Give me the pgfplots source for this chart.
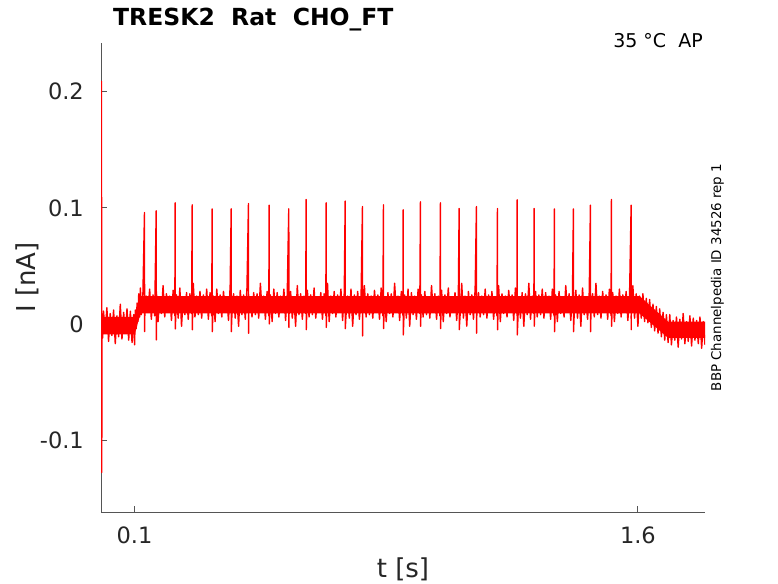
\documentclass[border=0pt]{standalone}
\usepackage{fontspec}
\setmainfont{DejaVu Sans}
\usepackage{pgfplots}
\pgfplotsset{compat=1.18}
\definecolor{axgray}{HTML}{555555}
\definecolor{lbl}{HTML}{262626}
\begin{document}
\begin{tikzpicture}
\path[use as bounding box] (0pt,0pt) rectangle (778pt,-583pt);
\begin{axis}[
  at={(101pt,-512pt)}, anchor=south west,
  scale only axis, width=604pt, height=469pt,
  xmin=0, xmax=1.8, ymin=-0.162, ymax=0.242,
  axis lines*=left,
  axis line style={draw=axgray, line width=0.8pt},
  tick style={draw=axgray, line width=0.8pt},
  major tick length=6pt,
  tick align=inside,
  xtick={0.1,1.6}, xticklabels={0.1,1.6},
  ytick={-0.1,0,0.1,0.2}, yticklabels={-0.1,0,0.1,0.2},
  tick label style={font=\fontsize{22.5}{27}\selectfont, text=lbl, inner sep=0pt},
  xticklabel style={anchor=north, yshift=-15pt},
  yticklabel style={anchor=east, xshift=-17pt},
  xlabel={t [s]}, ylabel={I [nA]},
  label style={font=\fontsize{26}{31}\selectfont, text=lbl, inner sep=0pt},
  xlabel style={at={(axis description cs:0.5,-0.1386)}, anchor=base},
  ylabel style={at={(axis description cs:-0.1081,0.5)}, anchor=base},
]
% solid core of the noisy band
\addplot[fill=red, draw=none] coordinates {
(0.002,0.006)(0.100,0.006)(0.118,0.024)(1.605,0.024)(1.690,0.002)(1.800,0.002)
(1.800,-0.012)(1.690,-0.012)(1.605,0.009)(0.118,0.009)(0.100,-0.009)(0.002,-0.009)
};
\addplot[color=red, line width=1.4pt, line join=round, mark=none] coordinates {
(0.0006,0.002)(0.0014,0.209)(0.0022,-0.128)(0.0030,0.004)
(0.0050,-0.012)(0.0075,0.011)(0.0125,-0.008)(0.0175,0.014)(0.0225,-0.015)(0.0275,0.009)(0.0325,-0.010)(0.0375,0.012)(0.0425,-0.017)(0.0475,0.007)(0.0525,-0.011)(0.0575,0.017)(0.0625,-0.013)(0.0675,0.010)(0.0725,-0.008)(0.0775,0.013)(0.0825,-0.014)(0.0875,0.011)(0.0925,-0.016)(0.0975,0.008)(0.1000,-0.018)
(0.1025,0.012)(0.105,-0.004)(0.1075,0.018)(0.110,0.002)(0.1125,0.026)(0.115,0.006)(0.1175,0.031)
(0.120,0.008)(0.125,0.027)(0.1296,0.0959)(0.1299,-0.0066)
(0.130,0.005)(0.135,0.024)
(0.140,0.010)(0.145,0.030)
(0.150,0.004)(0.155,0.025)
(0.160,0.007)(0.1645,0.0974)(0.1648,-0.0138)(0.165,0.028)
(0.170,0.002)(0.175,0.022)
(0.180,0.009)(0.185,0.033)
(0.190,0.006)(0.195,0.026)
(0.200,0.011)(0.205,0.024)
(0.210,0.003)(0.215,0.029)
(0.220,0.007)(0.2211,0.1043)(0.2214,-0.0043)(0.225,0.025)
(0.230,0.005)(0.235,0.031)
(0.240,-0.002)(0.245,0.023)
(0.250,0.008)(0.255,0.027)
(0.260,0.004)(0.265,0.026)
(0.270,0.009)(0.2718,0.1026)(0.2721,-0.0050)(0.275,0.035)
(0.280,0.006)(0.285,0.024)
(0.290,0.008)(0.295,0.028)
(0.300,0.005)(0.305,0.025)
(0.310,0.010)(0.315,0.030)
(0.320,0.004)(0.325,0.027)
(0.330,0.007)(0.3313,0.0991)(0.3316,-0.0066)(0.335,0.024)
(0.340,0.002)(0.345,0.030)
(0.350,0.009)(0.355,0.025)
(0.360,0.006)(0.365,0.028)
(0.370,0.011)(0.375,0.022)
(0.380,0.003)(0.385,0.033)(0.3880,0.0991)(0.3883,-0.0066)
(0.390,0.007)(0.395,0.026)
(0.400,0.005)(0.405,0.024)
(0.410,-0.002)(0.415,0.029)
(0.420,0.008)(0.425,0.025)
(0.430,0.004)(0.435,0.031)(0.4395,0.1037)(0.4398,-0.0080)
(0.440,0.009)(0.445,0.023)
(0.450,0.006)(0.455,0.027)
(0.460,0.008)(0.465,0.026)
(0.470,0.005)(0.475,0.035)
(0.480,0.010)(0.485,0.024)
(0.490,0.004)(0.495,0.028)
(0.500,0.007)(0.5012,0.1023)(0.5015,0.0000)(0.505,0.025)
(0.510,0.002)(0.515,0.030)
(0.520,0.009)(0.525,0.027)
(0.530,0.006)(0.535,0.024)
(0.540,0.011)(0.545,0.030)
(0.550,0.003)(0.555,0.025)(0.5596,0.0991)(0.5599,-0.0030)
(0.560,0.007)(0.565,0.028)
(0.570,0.005)(0.575,0.022)
(0.580,-0.002)(0.585,0.033)
(0.590,0.008)(0.595,0.026)
(0.600,0.004)(0.605,0.024)
(0.610,0.009)(0.6114,0.1072)(0.6117,-0.0050)(0.615,0.029)
(0.620,0.006)(0.625,0.025)
(0.630,0.008)(0.635,0.031)
(0.640,0.005)(0.645,0.023)
(0.650,0.010)(0.655,0.027)
(0.660,0.004)(0.665,0.026)
(0.670,0.007)(0.6710,0.1043)(0.6713,-0.0030)(0.675,0.035)
(0.680,0.002)(0.685,0.024)
(0.690,0.009)(0.695,0.028)
(0.700,0.006)(0.705,0.025)
(0.710,0.011)(0.715,0.030)
(0.720,0.003)(0.725,0.027)(0.7277,0.1058)(0.7280,-0.0040)
(0.730,0.007)(0.735,0.024)
(0.740,0.005)(0.745,0.030)
(0.750,-0.002)(0.755,0.025)
(0.760,0.008)(0.765,0.028)
(0.770,0.004)(0.775,0.022)(0.7792,0.1011)(0.7795,-0.0103)
(0.780,0.009)(0.785,0.033)
(0.790,0.006)(0.795,0.026)
(0.800,0.008)(0.805,0.024)
(0.810,0.005)(0.815,0.029)
(0.820,0.010)(0.825,0.025)
(0.830,0.004)(0.835,0.031)
(0.840,0.007)(0.8418,0.1026)(0.8421,-0.0040)(0.845,0.023)
(0.850,0.002)(0.855,0.027)
(0.860,0.009)(0.865,0.026)
(0.870,0.006)(0.875,0.035)
(0.880,0.011)(0.885,0.024)
(0.890,0.003)(0.895,0.028)
(0.900,0.007)(0.9005,0.0983)(0.9008,-0.0095)(0.905,0.025)
(0.910,0.005)(0.915,0.030)
(0.920,-0.002)(0.925,0.027)
(0.930,0.008)(0.935,0.024)
(0.940,0.004)(0.945,0.030)
(0.950,0.009)(0.9520,0.1052)(0.9523,-0.0020)(0.955,0.025)
(0.960,0.006)(0.965,0.028)
(0.970,0.008)(0.975,0.022)
(0.980,0.005)(0.985,0.033)
(0.990,0.010)(0.995,0.026)
(1.000,0.004)(1.005,0.024)
(1.010,0.007)(1.0116,0.1043)(1.0119,-0.0040)(1.015,0.029)
(1.020,0.002)(1.025,0.025)
(1.030,0.009)(1.035,0.031)
(1.040,0.006)(1.045,0.023)
(1.050,0.011)(1.055,0.027)
(1.060,0.003)(1.065,0.026)(1.0673,0.0994)(1.0676,-0.0050)
(1.070,0.007)(1.075,0.035)
(1.080,0.005)(1.085,0.024)
(1.090,-0.002)(1.095,0.028)
(1.100,0.008)(1.105,0.025)
(1.110,0.004)(1.115,0.030)(1.1189,0.1011)(1.1192,-0.0080)
(1.120,0.009)(1.125,0.027)
(1.130,0.006)(1.135,0.024)
(1.140,0.008)(1.145,0.030)
(1.150,0.005)(1.155,0.025)
(1.160,0.010)(1.165,0.028)
(1.170,0.004)(1.175,0.022)
(1.180,0.007)(1.1815,0.0994)(1.1818,-0.0050)(1.185,0.033)
(1.190,0.002)(1.195,0.026)
(1.200,0.009)(1.205,0.024)
(1.210,0.006)(1.215,0.029)
(1.220,0.011)(1.225,0.025)
(1.230,0.003)(1.235,0.031)
(1.240,0.007)(1.2402,0.1069)(1.2405,-0.0095)(1.245,0.023)
(1.250,0.005)(1.255,0.027)
(1.260,-0.002)(1.265,0.026)
(1.270,0.008)(1.275,0.035)
(1.280,0.004)(1.285,0.024)
(1.290,0.009)(1.2908,0.0994)(1.2911,-0.0020)(1.295,0.028)
(1.300,0.006)(1.305,0.025)
(1.310,0.008)(1.315,0.030)
(1.320,0.005)(1.325,0.027)
(1.330,0.010)(1.335,0.024)
(1.340,0.004)(1.345,0.030)
(1.350,0.007)(1.3513,0.0991)(1.3516,-0.0066)(1.355,0.025)
(1.360,0.002)(1.365,0.028)
(1.370,0.009)(1.375,0.022)
(1.380,0.006)(1.385,0.033)
(1.390,0.011)(1.395,0.026)
(1.400,0.003)(1.405,0.024)(1.4079,0.0991)(1.4082,-0.0066)
(1.410,0.007)(1.415,0.029)
(1.420,0.005)(1.425,0.025)
(1.430,-0.002)(1.435,0.031)
(1.440,0.008)(1.445,0.023)
(1.450,0.004)(1.455,0.027)(1.4586,0.1023)(1.4589,-0.0066)
(1.460,0.009)(1.465,0.026)
(1.470,0.006)(1.475,0.035)
(1.480,0.008)(1.485,0.024)
(1.490,0.005)(1.495,0.028)
(1.500,0.010)(1.505,0.025)
(1.510,0.004)(1.515,0.030)
(1.520,0.007)(1.5212,0.1072)(1.5215,-0.0020)(1.525,0.027)
(1.530,0.002)(1.535,0.024)
(1.540,0.009)(1.545,0.030)
(1.550,0.006)(1.555,0.025)
(1.560,0.011)(1.565,0.028)
(1.570,0.003)(1.575,0.022)(1.5799,0.1023)(1.5802,-0.0050)
(1.580,0.007)(1.585,0.033)
(1.590,0.005)(1.595,0.026)
(1.600,-0.002)(1.605,0.024)
(1.610,0.005)(1.615,0.026)(1.620,0.002)(1.625,0.022)(1.630,0.001)(1.635,0.021)(1.640,-0.003)(1.645,0.017)(1.650,-0.006)(1.655,0.015)(1.660,-0.008)(1.665,0.013)(1.670,-0.011)(1.675,0.010)(1.680,-0.014)(1.685,0.008)(1.690,-0.016)
(1.695,0.008)(1.700,-0.018)(1.705,0.003)(1.710,-0.014)(1.715,0.006)(1.720,-0.020)(1.725,0.004)(1.730,-0.013)(1.735,0.009)(1.740,-0.017)(1.745,0.002)(1.750,-0.015)(1.755,0.007)(1.760,-0.019)(1.765,0.005)(1.770,-0.014)(1.775,0.003)(1.780,-0.017)(1.785,0.006)(1.790,-0.021)(1.795,0.002)(1.800,-0.018)
};
\end{axis}
\node[inner sep=0pt, anchor=base west, font=\bfseries\fontsize{23.5}{28}\selectfont] at (113pt,-26pt) {TRESK2\ \ Rat\ \ CHO\_FT};
\node[inner sep=0pt, anchor=base east, font=\fontsize{19}{23}\selectfont] at (703pt,-48pt) {35 °C\ \ AP};
\node[inner sep=0pt, rotate=90, anchor=center, font=\fontsize{13.4}{16}\selectfont] at (717.5pt,-277.5pt) {BBP Channelpedia ID 34526 rep 1};
\end{tikzpicture}
\end{document}
